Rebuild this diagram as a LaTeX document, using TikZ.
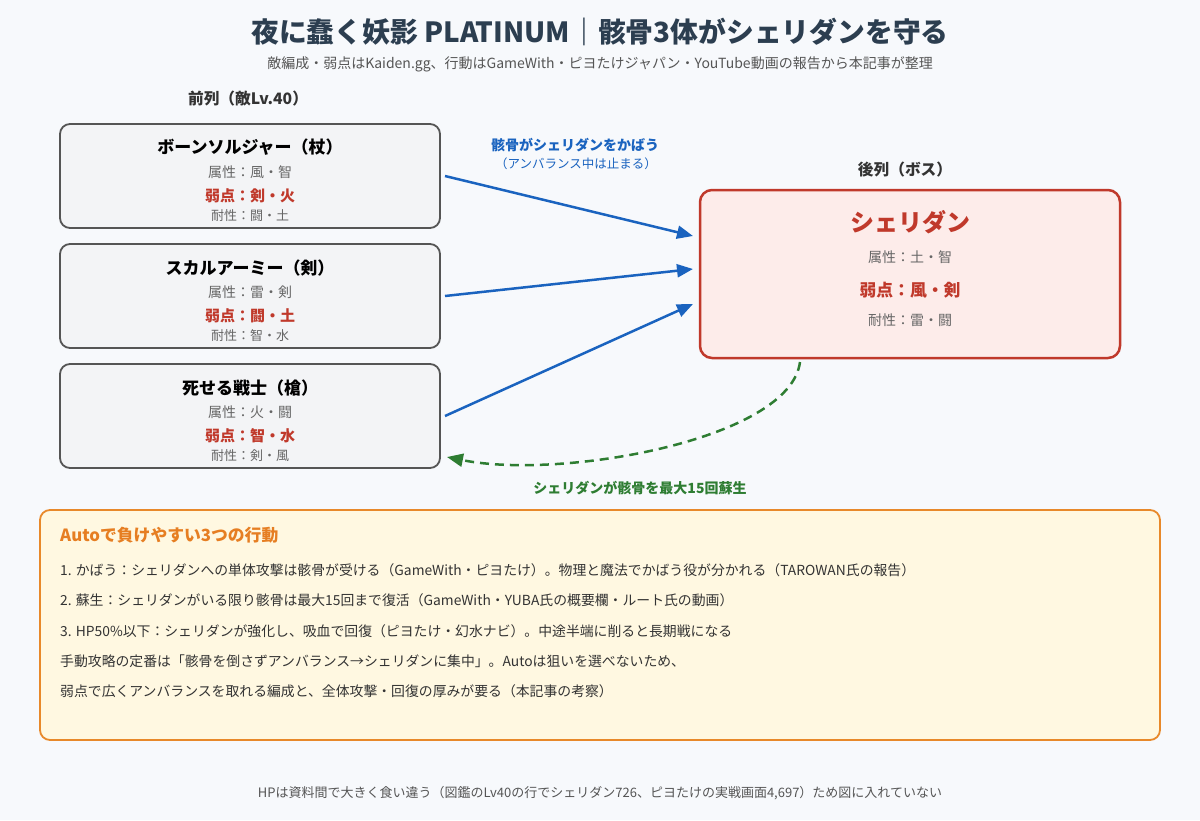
\documentclass[tikz,border=0pt]{standalone}
\usepackage{fontspec}
\setmainfont{Noto Sans CJK JP}
\usetikzlibrary{arrows.meta}
\definecolor{bg}{HTML}{F7F9FC}
\definecolor{titlec}{HTML}{2C3E50}
\definecolor{subc}{HTML}{555555}
\definecolor{boxfill}{HTML}{F3F4F6}
\definecolor{boxdraw}{HTML}{555555}
\definecolor{redc}{HTML}{C0392B}
\definecolor{bossfill}{HTML}{FDECEA}
\definecolor{bluec}{HTML}{1A63BF}
\definecolor{greenc}{HTML}{2E7D32}
\definecolor{notefill}{HTML}{FFF8E1}
\definecolor{notedraw}{HTML}{E8892A}
\definecolor{orangec}{HTML}{E67E22}
\definecolor{bodyc}{HTML}{333333}
\definecolor{grayc}{HTML}{666666}
\newcommand{\fs}[1]{\fontsize{#1}{#1}\selectfont}
\tikzset{
  enemybox/.style={draw=boxdraw, fill=boxfill, line width=1.8pt, rounded corners=10pt},
  bossbox/.style={draw=redc, fill=bossfill, line width=2.5pt, rounded corners=12pt},
  notebox/.style={draw=notedraw, fill=notefill, line width=1.8pt, rounded corners=10pt},
  ename/.style={font=\bfseries\fs{17}, text=black},
  attr/.style={font=\fs{14}, text=grayc},
  weak/.style={font=\bfseries\fs{15}, text=redc},
  resist/.style={font=\fs{13}, text=grayc},
  header/.style={font=\bfseries\fs{15.7}, text=bodyc},
  guard/.style={draw=bluec, line width=2.5pt, -{Triangle[length=16pt,width=13pt]}},
  revive/.style={draw=greenc, line width=2.5pt, dash pattern=on 9pt off 6pt, -{Triangle[length=16pt,width=13pt]}},
  bodyline/.style={anchor=west, font=\fs{13.85}, text=bodyc, inner xsep=0pt},
}
\begin{document}
\begin{tikzpicture}[x=1pt,y=-1pt]
\fill[bg] (0,0) rectangle (1200,820);
\useasboundingbox (0,0) rectangle (1200,820);

\node[font=\bfseries\fs{27.8}, text=titlec] (title) at (600,32) {夜に蠢く妖影 PLATINUM｜骸骨3体がシェリダンを守る};
\node[font=\fs{14}, text=subc] (sub) at (600,64) {敵編成・弱点はKaiden.gg、行動はGameWith・ピヨたけジャパン・YouTube動画の報告から本記事が整理};

\node[header] (front) at (248,99) {前列（敵Lv.40）};
\node[header] (back) at (905,170) {後列（ボス）};

% enemy boxes
\draw[enemybox] (60,124) rectangle (440,228);
\node[ename] (e1) at (250,147) {ボーンソルジャー（杖）};
\node[attr] (e1a) at (250,172) {属性：風・智};
\node[weak] (e1w) at (250,196) {弱点：剣・火};
\node[resist] (e1r) at (250,216) {耐性：闘・土};

\draw[enemybox] (60,244) rectangle (440,348);
\node[ename] (e2) at (250,268) {スカルアーミー（剣）};
\node[attr] (e2a) at (250,292) {属性：雷・剣};
\node[weak] (e2w) at (250,316) {弱点：闘・土};
\node[resist] (e2r) at (250,336) {耐性：智・水};

\draw[enemybox] (60,364) rectangle (440,468);
\node[ename] (e3) at (250,388) {死せる戦士（槍）};
\node[attr] (e3a) at (250,412) {属性：火・闘};
\node[weak] (e3w) at (250,436) {弱点：智・水};
\node[resist] (e3r) at (250,456) {耐性：剣・風};

% boss
\draw[bossbox] (700,190) rectangle (1120,358);
\node[font=\bfseries\fs{24}, text=redc] (boss) at (910,222) {シェリダン};
\node[attr] (ba) at (910,257) {属性：土・智};
\node[font=\bfseries\fs{16.8}, text=redc] (bw) at (910,290) {弱点：風・剣};
\node[attr] (br) at (910,320) {耐性：雷・闘};

% connectors
\coordinate (s1) at (445,176);
\coordinate (s2) at (445,296);
\coordinate (s3) at (445,416);
\coordinate (t1) at (693,236);
\coordinate (t2) at (693,269);
\coordinate (t3) at (693,304);
\draw[guard] (s1) -- (t1);
\draw[guard] (s2) -- (t2);
\draw[guard] (s3) -- (t3);
\node[font=\bfseries\fs{14}, text=bluec] (gl) at (575,145) {骸骨がシェリダンをかばう};
\node[font=\fs{12.5}, text=bluec] (gl2) at (576,164) {（アンバランス中は止まる）};

\coordinate (rs) at (800,362);
\coordinate (rt) at (447,457);
\draw[revive] (rs) .. controls (790,440) and (560,480) .. (rt);
\node[font=\bfseries\fs{14}, text=greenc] (rl) at (640,488) {シェリダンが骸骨を最大15回蘇生};

% note box
\draw[notebox] (40,510) rectangle (1160,740);
\node[anchor=west, font=\bfseries\fs{16.8}, text=orangec, inner xsep=0pt] (nt) at (60,535) {Autoで負けやすい3つの行動};
\node[bodyline] (n1) at (60,570) {1. かばう：シェリダンへの単体攻撃は骸骨が受ける（GameWith・ピヨたけ）。物理と魔法でかばう役が分かれる（TAROWAN氏の報告）};
\node[bodyline] (n2) at (60,600) {2. 蘇生：シェリダンがいる限り骸骨は最大15回まで復活（GameWith・YUBA氏の概要欄・ルート氏の動画）};
\node[bodyline] (n3) at (60,631) {3. HP50\%以下：シェリダンが強化し、吸血で回復（ピヨたけ・幻水ナビ）。中途半端に削ると長期戦になる};
\node[bodyline] (n4) at (60,661) {手動攻略の定番は「骸骨を倒さずアンバランス→シェリダンに集中」。Autoは狙いを選べないため、};
\node[bodyline] (n5) at (60,691) {弱点で広くアンバランスを取れる編成と、全体攻撃・回復の厚みが要る（本記事の考察）};

\node[font=\fs{13}, text=subc] (foot) at (600,793) {HPは資料間で大きく食い違う（図鑑のLv40の行でシェリダン726、ピヨたけの実戦画面4,697）ため図に入れていない};
\end{tikzpicture}
\end{document}
